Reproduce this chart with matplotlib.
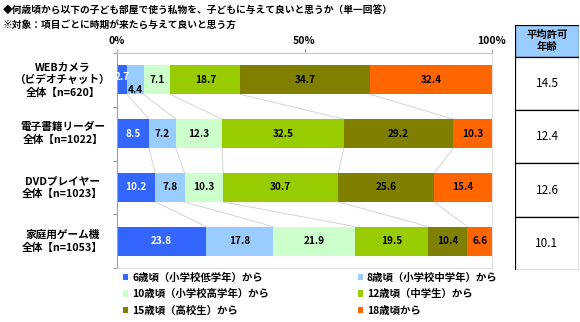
import matplotlib
matplotlib.use("Agg")
import matplotlib.pyplot as plt
from matplotlib.patches import Patch, Rectangle

plt.rcParams["font.family"] = ["Noto Sans CJK JP", "DejaVu Sans"]

# data
categories = ["WEBカメラ\n（ビデオチャット）\n全体【n=620】",
              "電子書籍リーダー\n全体【n=1022】",
              "DVDプレイヤー\n全体【n=1023】",
              "家庭用ゲーム機\n全体【n=1053】"]
series_names = ["6歳頃（小学校低学年）から", "8歳頃（小学校中学年）から",
                "10歳頃（小学校高学年）から", "12歳頃（中学生）から",
                "15歳頃（高校生）から", "18歳頃から"]
s6 = [2.7, 8.5, 10.2, 23.8]
s8 = [4.4, 7.2, 7.8, 17.8]
s10 = [7.1, 12.3, 10.3, 21.9]
s12 = [18.7, 32.5, 30.7, 19.5]
s15 = [34.7, 29.2, 25.6, 10.4]
s18 = [32.4, 10.3, 15.4, 6.6]
avg_age = [14.5, 12.4, 12.6, 10.1]
xticks = [0, 50, 100]

colors = ["#3366FF", "#99CCFF", "#CCFFCC", "#99CC00", "#808000", "#FF6600"]
series = [s6, s8, s10, s12, s15, s18]

W, H = 580, 322
fig = plt.figure(figsize=(W / 100, H / 100), dpi=100)

def fbox(x0, y0, x1, y1):
    return [x0 / W, 1 - y1 / H, (x1 - x0) / W, (y1 - y0) / H]

ax = fig.add_axes(fbox(117, 53, 492, 268))
bh = 0.54
n = len(categories)
ypos = list(range(n))

left = [0.0] * n
edges = []
for k, (vals, col) in enumerate(zip(series, colors)):
    ax.barh(ypos, vals, left=left, height=bh, color=col, edgecolor="none")
    for i, v in enumerate(vals):
        cx = left[i] + v / 2
        dy = 0
        if v < 4 and k == 0:
            dy = -0.06
        elif left[i] + v < 8 and k == 1:
            dy = 0.19
        ax.text(cx, i + dy, f"{v:.1f}", ha="center", va="center", fontsize=7.2,
                fontweight="bold", color="white" if k == 0 else "black")
    left = [l + v for l, v in zip(left, vals)]
    if k < len(series) - 1:
        edges.append(list(left))

# connector lines between bars
for b in edges:
    for i in range(n - 1):
        ax.plot([b[i], b[i + 1]], [i + bh / 2, i + 1 - bh / 2],
                color="#D4D4D4", lw=0.7, zorder=0)

ax.set_xlim(0, 100)
ax.set_ylim(n - 0.5, -0.5)
ax.xaxis.tick_top()
ax.set_xticks(xticks)
ax.set_xticklabels([f"{t}%" for t in xticks], fontsize=7.5, fontweight="bold")
ax.tick_params(axis="x", length=3, color="#A0A0A0", pad=2)
ax.set_yticks([y + 0.5 for y in range(-1, n)])
ax.set_yticklabels([])
ax.tick_params(axis="y", length=3, color="#A0A0A0")
for i, c in enumerate(categories):
    ax.text(-14.5, i, c, ha="center", va="center", fontsize=7.7,
            fontweight="bold", linespacing=1.35)
ax.spines["left"].set_color("#A0A0A0")
ax.spines["top"].set_color("#C8C8C8")
ax.spines["right"].set_color("#E0E0E0")
ax.spines["bottom"].set_color("#E0E0E0")

handles = [Patch(facecolor=c, edgecolor="none") for c in colors]
order = [0, 2, 4, 1, 3, 5]
ax.legend([handles[i] for i in order], [series_names[i] for i in order],
          ncol=2, loc="upper left", bbox_to_anchor=(0.007, -0.005),
          frameon=False, handlelength=0.55, handleheight=0.55,
          handletextpad=0.35, columnspacing=8.5, labelspacing=0.62,
          borderpad=0.1, borderaxespad=0.2,
          prop={"weight": "bold", "size": 7.5})

# average age table
tx = fig.add_axes(fbox(515, 25, 579, 270))
tx.set_xlim(0, 1)
tx.set_ylim(270, 25)
tx.axis("off")
rows = [25, 57, 110, 163, 217, 270]
tx.add_patch(Rectangle((0, rows[0]), 1, rows[1] - rows[0], facecolor="#99CCFF",
                       edgecolor="black", lw=0.9))
tx.text(0.5, (rows[0] + rows[1]) / 2, "平均許可\n年齢", ha="center", va="center",
        fontsize=7.5, fontweight="bold", linespacing=1.25)
for i, a in enumerate(avg_age):
    y0, y1 = rows[i + 1], rows[i + 2]
    tx.add_patch(Rectangle((0, y0), 1, y1 - y0, facecolor="white",
                           edgecolor="black", lw=0.9))
    tx.text(0.5, (y0 + y1) / 2, f"{a:.1f}", ha="center", va="center", fontsize=8.5)

fig.text(3 / W, 1 - 11 / H, "◆何歳頃から以下の子ども部屋で使う私物を、子どもに与えて良いと思うか（単一回答）",
         fontsize=7, fontweight="bold", va="center")
fig.text(3 / W, 1 - 25 / H, "※対象：項目ごとに時期が来たら与えて良いと思う方",
         fontsize=7, fontweight="bold", va="center")

fig.savefig("out.png", dpi=100)
